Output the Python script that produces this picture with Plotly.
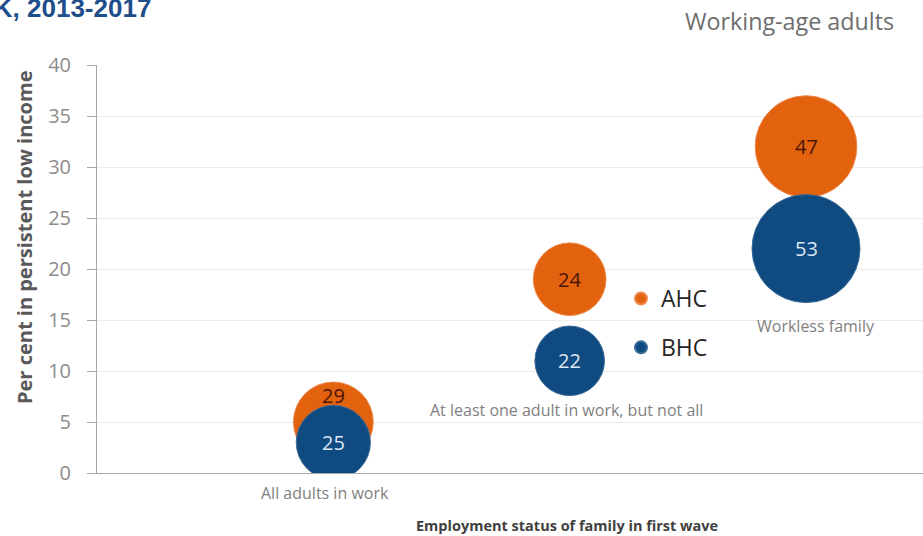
import plotly.graph_objects as go

# Employment status of family in the first wave (positions 1..3 on the x axis)
categories = ["All adults in work", "At least one adult in work, but not all", "Workless family"]
category_x = [1, 2, 3]

# Per cent in persistent low income
ahc_pct = [5, 19, 32]
bhc_pct = [3, 11, 22]

# Bubble values shown inside each bubble
ahc_value = [29, 24, 47]
bhc_value = [25, 22, 53]

ORANGE = "#E2620E"
BLUE = "#0F4A80"
FONT = "Open Sans"

max_diameter = 108
sizeref = 2.0 * max(ahc_value + bhc_value) / max_diameter ** 2

fig = go.Figure()

fig.add_trace(go.Scatter(
    x=category_x, y=ahc_pct, mode="markers", name="AHC",
    legendgroup="ahc",
    marker=dict(size=ahc_value, sizemode="area", sizeref=sizeref,
                color=ORANGE, opacity=1, line=dict(color="#EE8A4E", width=1)),
    hoverinfo="skip",
))
fig.add_trace(go.Scatter(
    x=category_x, y=bhc_pct, mode="markers", name="BHC",
    legendgroup="bhc",
    marker=dict(size=bhc_value, sizemode="area", sizeref=sizeref,
                color=BLUE, opacity=1, line=dict(color="#3A6A98", width=1)),
    hoverinfo="skip",
))

annotations = []

# Value labels inside the bubbles (the first orange one sits above the overlap)
ahc_shift = [27, 0, 0]
for cx, cy, v, dy in zip(category_x, ahc_pct, ahc_value, ahc_shift):
    annotations.append(dict(
        x=cx, y=cy, xref="x", yref="y", text=str(v), showarrow=False, yshift=dy,
        font=dict(family=FONT, size=20, color="#4A1408"),
        xanchor="center", yanchor="middle",
    ))
for cx, cy, v in zip(category_x, bhc_pct, bhc_value):
    annotations.append(dict(
        x=cx, y=cy, xref="x", yref="y", text=str(v), showarrow=False,
        font=dict(family=FONT, size=20, color="#DCE8F4"),
        xanchor="center", yanchor="middle",
    ))

# Category names written under the lower bubble of each pair
label_dy = [-51, -49, -77]
label_dx = [-8, -3, 10]
for cx, cy, dx, dy, name in zip(category_x, bhc_pct, label_dx, label_dy, categories):
    annotations.append(dict(
        x=cx, y=cy, xref="x", yref="y", text=name, showarrow=False,
        xshift=dx, yshift=dy, font=dict(family=FONT, size=16, color="#7F7F7F"),
        xanchor="center", yanchor="middle",
    ))

# Title fragment, subtitle and axis titles
annotations += [
    dict(text="<b>UK, 2013-2017</b>", xref="paper", yref="paper",
         x=(153 - 97) / 826, y=(473 - 8) / 408, xanchor="right", yanchor="middle",
         showarrow=False, font=dict(family="Liberation Sans", size=26, color="#1F4E8C")),
    dict(text="Working-age adults", xref="paper", yref="paper",
         x=(896 - 97) / 826, y=(473 - 21) / 408, xanchor="right", yanchor="middle",
         showarrow=False, font=dict(family=FONT, size=23.3, color="#6E6E6E")),
    dict(text="<b>Employment status of family in first wave</b>", xref="paper", yref="paper",
         x=(567 - 97) / 826, y=(473 - 525) / 408, xanchor="center", yanchor="middle",
         showarrow=False, font=dict(family=FONT, size=14.5, color="#404040")),
    dict(text="<b>Per cent in persistent low income</b>", xref="paper", yref="paper",
         x=(24 - 97) / 826, y=(473 - 238) / 408, xanchor="center", yanchor="middle",
         textangle=-90, showarrow=False,
         font=dict(family=FONT, size=20, color="#595959")),
]

fig.update_layout(
    width=923, height=536,
    margin=dict(l=97, r=0, t=65, b=63),
    paper_bgcolor="white", plot_bgcolor="white",
    showlegend=True,
    legend=dict(
        x=(621 - 97) / 826, y=(473 - 277) / 408, xanchor="left", yanchor="top",
        font=dict(family=FONT, size=23, color="#262626"),
        itemsizing="constant", tracegroupgap=16,
        bgcolor="rgba(0,0,0,0)", borderwidth=0,
    ),
    annotations=annotations,
    xaxis=dict(range=[0, 3.495], showgrid=False, zeroline=False,
               showticklabels=False, ticks="", showline=True,
               linecolor="#A6A6A6", linewidth=1, fixedrange=True),
    yaxis=dict(range=[0, 40], dtick=5, showgrid=True, gridcolor="#EBEBEB",
               gridwidth=1, zeroline=False, showline=True, linecolor="#A6A6A6",
               linewidth=1, ticks="outside", ticklen=9, tickcolor="#A6A6A6",
               ticklabelstandoff=12,
               tickfont=dict(family=FONT, size=20, color="#8C8C8C"),
               fixedrange=True),
)

fig.write_html("out.html")
